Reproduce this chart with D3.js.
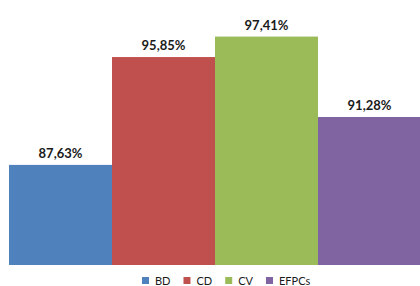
<!DOCTYPE html>
<html>
<head>
<meta charset="utf-8">
<script src="https://cdn.jsdelivr.net/npm/d3@7"></script>
<style>
  body { margin: 0; background: #fff; }
  svg { display: block; font-family: Lato, "Open Sans", sans-serif; }
</style>
</head>
<body>
<svg width="420" height="286"></svg>
<script>
var categories = ["BD", "CD", "CV", "EFPCs"];
var values = [87.63, 95.85, 97.41, 91.28];
var colors = ["#4f81bd", "#c0504d", "#9bbb59", "#8064a2"];

var svg = d3.select("svg"),
    width = +svg.attr("width"),
    height = +svg.attr("height");

var x = d3.scaleBand()
    .domain(categories)
    .range([9, 421])
    .padding(0);

var y = d3.scaleLinear()
    .domain([80, 100])
    .range([265, 2.6]);

var color = d3.scaleOrdinal().domain(categories).range(colors);

var data = categories.map(function(c, i) { return {name: c, value: values[i]}; });

svg.append("g")
    .selectAll("rect")
    .data(data)
    .enter().append("rect")
    .attr("x", function(d) { return x(d.name); })
    .attr("y", function(d) { return y(d.value); })
    .attr("width", x.bandwidth())
    .attr("height", function(d) { return y(80) - y(d.value); })
    .style("fill", function(d) { return color(d.name); });

svg.append("g")
    .selectAll("text")
    .data(data)
    .enter().append("text")
    .attr("x", function(d) { return x(d.name) + x.bandwidth() / 2; })
    .attr("y", function(d) { return y(d.value) - 7; })
    .attr("text-anchor", "middle")
    .style("font-size", "13px")
    .style("font-weight", "bold")
    .style("fill", "#1a1a1a")
    .text(function(d) { return d.value.toFixed(2).replace(".", ",") + "%"; });

// legend
var legend = svg.append("g").attr("class", "legend");
var lx = 142;
categories.forEach(function(c) {
    legend.append("rect")
        .attr("x", lx)
        .attr("y", 277)
        .attr("width", 7)
        .attr("height", 7)
        .style("fill", color(c));
    var t = legend.append("text")
        .attr("x", lx + 13)
        .attr("y", 285)
        .style("font-size", "11px")
        .style("fill", "#1a1a1a")
        .text(c);
    lx += 13 + t.node().getComputedTextLength() + 13;
});
</script>
</body>
</html>
